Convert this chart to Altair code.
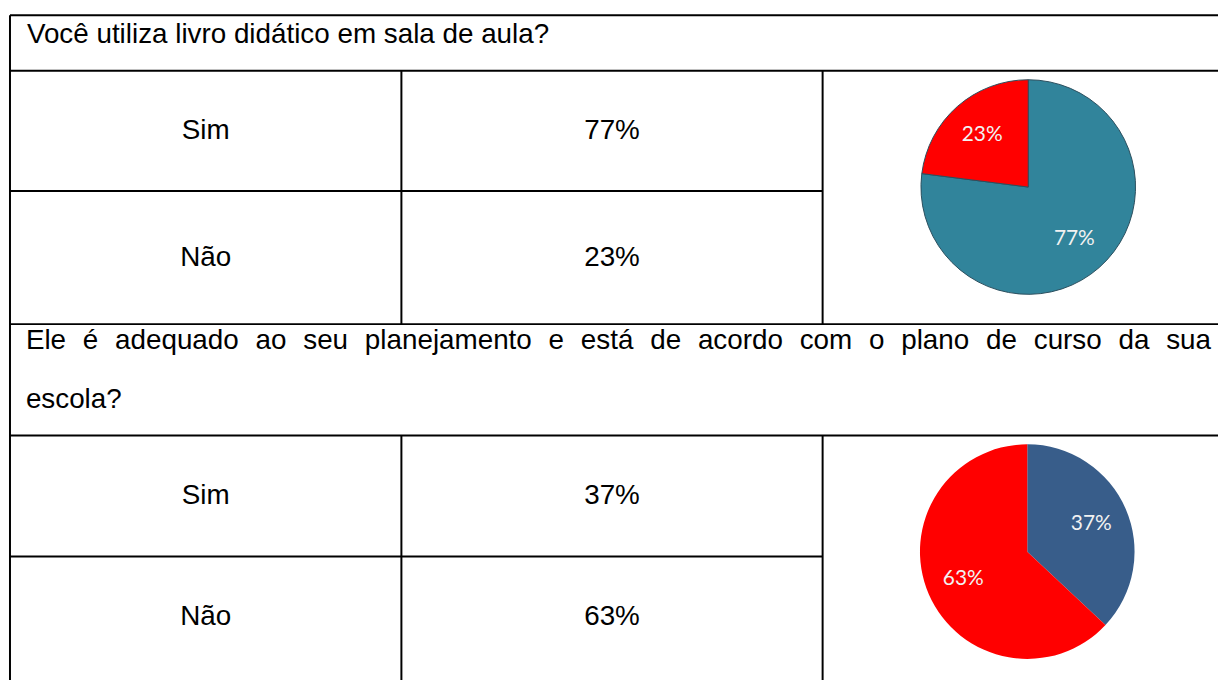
import altair as alt
import pandas as pd

# ---- data ----
questions = [
    "Você utiliza livro didático em sala de aula?",
    "Ele é adequado ao seu planejamento e está de acordo com o plano de curso da sua",
]
question2_line2 = "escola?"
answers = ["Sim", "Não"]
q1_values = [77, 23]
q2_values = [37, 63]

# ---- styles ----
FONT = "Liberation Sans"
FS = 28
RED = "#FF0000"
TEAL = "#31849B"
BLUE = "#385D8A"
OFF = 8  # page margin

W, H = 1218, 672

# layout (page pixel coordinates)
L, C1, C2, R = 10, 404, 828, 1240
ROWS = [13, 69, 190, 324, 436, 558, 690]

rules = pd.DataFrame([
    dict(x=L, x2=R, y=ROWS[0], y2=ROWS[0]),
    dict(x=L, x2=R, y=ROWS[1], y2=ROWS[1]),
    dict(x=L, x2=C2, y=ROWS[2], y2=ROWS[2]),
    dict(x=L, x2=R, y=ROWS[3], y2=ROWS[3]),
    dict(x=L, x2=R, y=ROWS[4], y2=ROWS[4]),
    dict(x=L, x2=C2, y=ROWS[5], y2=ROWS[5]),
    dict(x=L, x2=L, y=ROWS[0], y2=ROWS[6]),
    dict(x=C1, x2=C1, y=ROWS[1], y2=ROWS[3]),
    dict(x=C2, x2=C2, y=ROWS[1], y2=ROWS[3]),
    dict(x=C1, x2=C1, y=ROWS[4], y2=ROWS[6]),
    dict(x=C2, x2=C2, y=ROWS[4], y2=ROWS[6]),
])
for c in ["x", "x2", "y", "y2"]:
    rules[c] = rules[c] - OFF

rule_layer = alt.Chart(rules).mark_rule(color="black", strokeWidth=2).encode(
    x=alt.X("x:Q", scale=None), x2="x2:Q",
    y=alt.Y("y:Q", scale=None), y2="y2:Q",
)

# Arial (Liberation Sans) advance widths, per 1000 em, for justification
ARIAL = {
    "E": 667, "l": 222, "é": 556, "á": 556, "a": 556, "d": 556, "e": 556, "q": 556,
    "u": 556, "o": 556, "s": 500, "p": 556, "n": 556, "j": 222, "m": 833,
    "t": 278, "c": 500, "r": 333, "i": 222, "g": 556,
}


def word_width(w):
    return sum(ARIAL.get(ch, 556) for ch in w) * FS / 1000.0


# justified first line of question 2
J_START, J_END = 26, 1219
words = questions[1].split(" ")
widths = [word_width(w) for w in words]
gap = (J_END - J_START - sum(widths)) / (len(words) - 1)
qrows = [dict(t=questions[0], x=27, y=41)]
xpos = J_START
for w, wd in zip(words, widths):
    qrows.append(dict(t=w, x=xpos, y=349))
    xpos += wd + gap
qrows.append(dict(t=question2_line2, x=J_START, y=408))

qtext = pd.DataFrame(qrows)
qtext["x"] -= OFF
qtext["y"] -= OFF
q_layer = alt.Chart(qtext).mark_text(
    align="left", baseline="alphabetic", font=FONT, fontSize=FS, color="black"
).encode(x=alt.X("x:Q", scale=None), y=alt.Y("y:Q", scale=None), text="t:N")

cells = []
row_centers = [(ROWS[1] + ROWS[2]) / 2, (ROWS[2] + ROWS[3]) / 2,
               (ROWS[4] + ROWS[5]) / 2, (ROWS[5] + 680) / 2]
vals = [q1_values[0], q1_values[1], q2_values[0], q2_values[1]]
ans = answers + answers
for i in range(4):
    cells.append(dict(t=ans[i], x=(L + C1) / 2, y=row_centers[i]))
    cells.append(dict(t=f"{vals[i]}%", x=(C1 + C2) / 2, y=row_centers[i]))
cells = pd.DataFrame(cells)
cells["x"] -= OFF
cells["y"] -= OFF
cell_layer = alt.Chart(cells).mark_text(
    align="center", baseline="middle", font=FONT, fontSize=FS, color="black"
).encode(x=alt.X("x:Q", scale=None), y=alt.Y("y:Q", scale=None), text="t:N")


def pie(values, color_sim, cx, cy, radius, stroke=None):
    df = pd.DataFrame({"answer": answers, "value": values, "idx": [0, 1]})
    df["label"] = df["value"].astype(str) + "%"
    base = alt.Chart(df).encode(
        theta=alt.Theta("value:Q", stack=True),
        order=alt.Order("idx:Q"),
        x=alt.value(cx - OFF), y=alt.value(cy - OFF),
    )
    arc_kwargs = dict(radius=radius)
    if stroke:
        arc_kwargs.update(stroke=stroke, strokeWidth=1)
    arc = base.mark_arc(**arc_kwargs).encode(
        color=alt.Color("answer:N", scale=alt.Scale(domain=answers, range=[color_sim, RED]), legend=None)
    )
    txt = base.mark_text(radius=radius * 0.65, font="Lato", fontSize=21, color="#F2F2F2").encode(
        text="label:N"
    )
    return arc, txt


arc1, txt1 = pie(q1_values, TEAL, 1035, 186, 108, stroke="#2B4F5E")
arc2, txt2 = pie(q2_values, BLUE, 1034, 553, 108)

chart = alt.layer(
    rule_layer, q_layer, cell_layer, arc1, txt1, arc2, txt2
).resolve_scale(color="independent", theta="independent").properties(
    width=W, height=H, padding=0, autosize=alt.AutoSizeParams(type="none"),
    background="white",
).configure_view(stroke=None)

chart.save("out.html", embed_options={"renderer": "svg", "actions": False})
